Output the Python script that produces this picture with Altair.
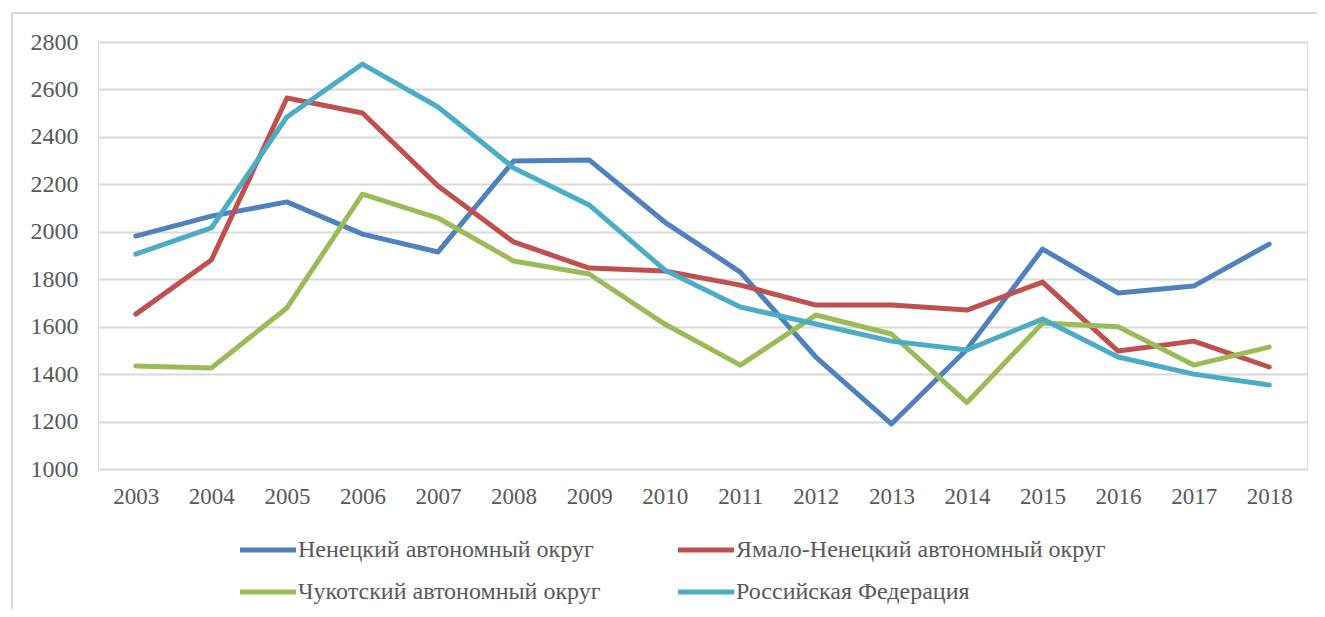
import altair as alt
import pandas as pd

years = [str(y) for y in range(2003, 2019)]
series_names = [
    "Ненецкий автономный округ",
    "Ямало-Ненецкий автономный округ",
    "Чукотский автономный округ",
    "Российская Федерация",
]
nenets = [1982, 2066, 2126, 1990, 1915, 2298, 2303, 2041, 1830, 1472, 1190, 1505, 1927, 1742, 1771, 1948]
yamal = [1653, 1881, 2564, 2501, 2193, 1957, 1847, 1835, 1775, 1691, 1691, 1670, 1788, 1497, 1539, 1430]
chukotka = [1434, 1426, 1679, 2159, 2058, 1877, 1822, 1611, 1438, 1649, 1569, 1280, 1615, 1600, 1438, 1514]
russia = [1906, 2016, 2484, 2707, 2526, 2269, 2113, 1839, 1683, 1611, 1539, 1502, 1632, 1472, 1400, 1354]
colors = ["#4F81BD", "#C0504D", "#9BBB59", "#4BACC6"]

rows = []
for name, vals in zip(series_names, [nenets, yamal, chukotka, russia]):
    for yr, v in zip(years, vals):
        rows.append({"year": yr, "value": v, "series": name})
df = pd.DataFrame(rows)

FONT = "Liberation Serif"

lines = alt.Chart(df).mark_line(strokeWidth=5, strokeCap="round", strokeJoin="round").encode(
    x=alt.X("year:N", sort=years, title=None,
            scale=alt.Scale(paddingInner=0, paddingOuter=0.5),
            axis=alt.Axis(labelAngle=0, domain=False, ticks=False, grid=False,
                          labelFont=FONT, labelFontSize=23, labelColor="#595959",
                          labelPadding=16)),
    y=alt.Y("value:Q", title=None,
            scale=alt.Scale(domain=[1000, 2800], nice=False, zero=False),
            axis=alt.Axis(values=list(range(1000, 2801, 200)), format="d",
                          domain=False, ticks=False,
                          gridColor="#D9D9D9", gridWidth=2,
                          labelFont=FONT, labelFontSize=24, labelColor="#595959",
                          labelPadding=20)),
    color=alt.Color("series:N", sort=series_names,
                    scale=alt.Scale(domain=series_names, range=colors),
                    legend=alt.Legend(title=None, orient="none", legendX=158, legendY=496,
                                      direction="horizontal", padding=0,
                                      columns=2, columnPadding=67, rowPadding=18,
                                      symbolType="M-4,0H4", symbolSize=196,
                                      symbolStrokeWidth=5, symbolOffset=0,
                                      labelFont=FONT, labelFontSize=24, labelColor="#595959",
                                      labelOffset=18, labelLimit=500)),
    order=alt.Order("series:N"),
)

border = alt.Chart(pd.DataFrame({"a": [0]})).mark_rect(
    fill=None, stroke="#D9D9D9", strokeWidth=2
).encode(
    x=alt.value(-86), x2=alt.value(1240), y=alt.value(-29), y2=alt.value(600)
)

chart = alt.layer(border, lines).properties(
    width=1209, height=427,
    padding={"left": 90, "top": 34, "right": 10, "bottom": 140},
    autosize=alt.AutoSizeParams(type="none"),
).configure_view(stroke=None).configure(font=FONT)

chart.save("out.html", embed_options={"renderer": "svg", "actions": False})
